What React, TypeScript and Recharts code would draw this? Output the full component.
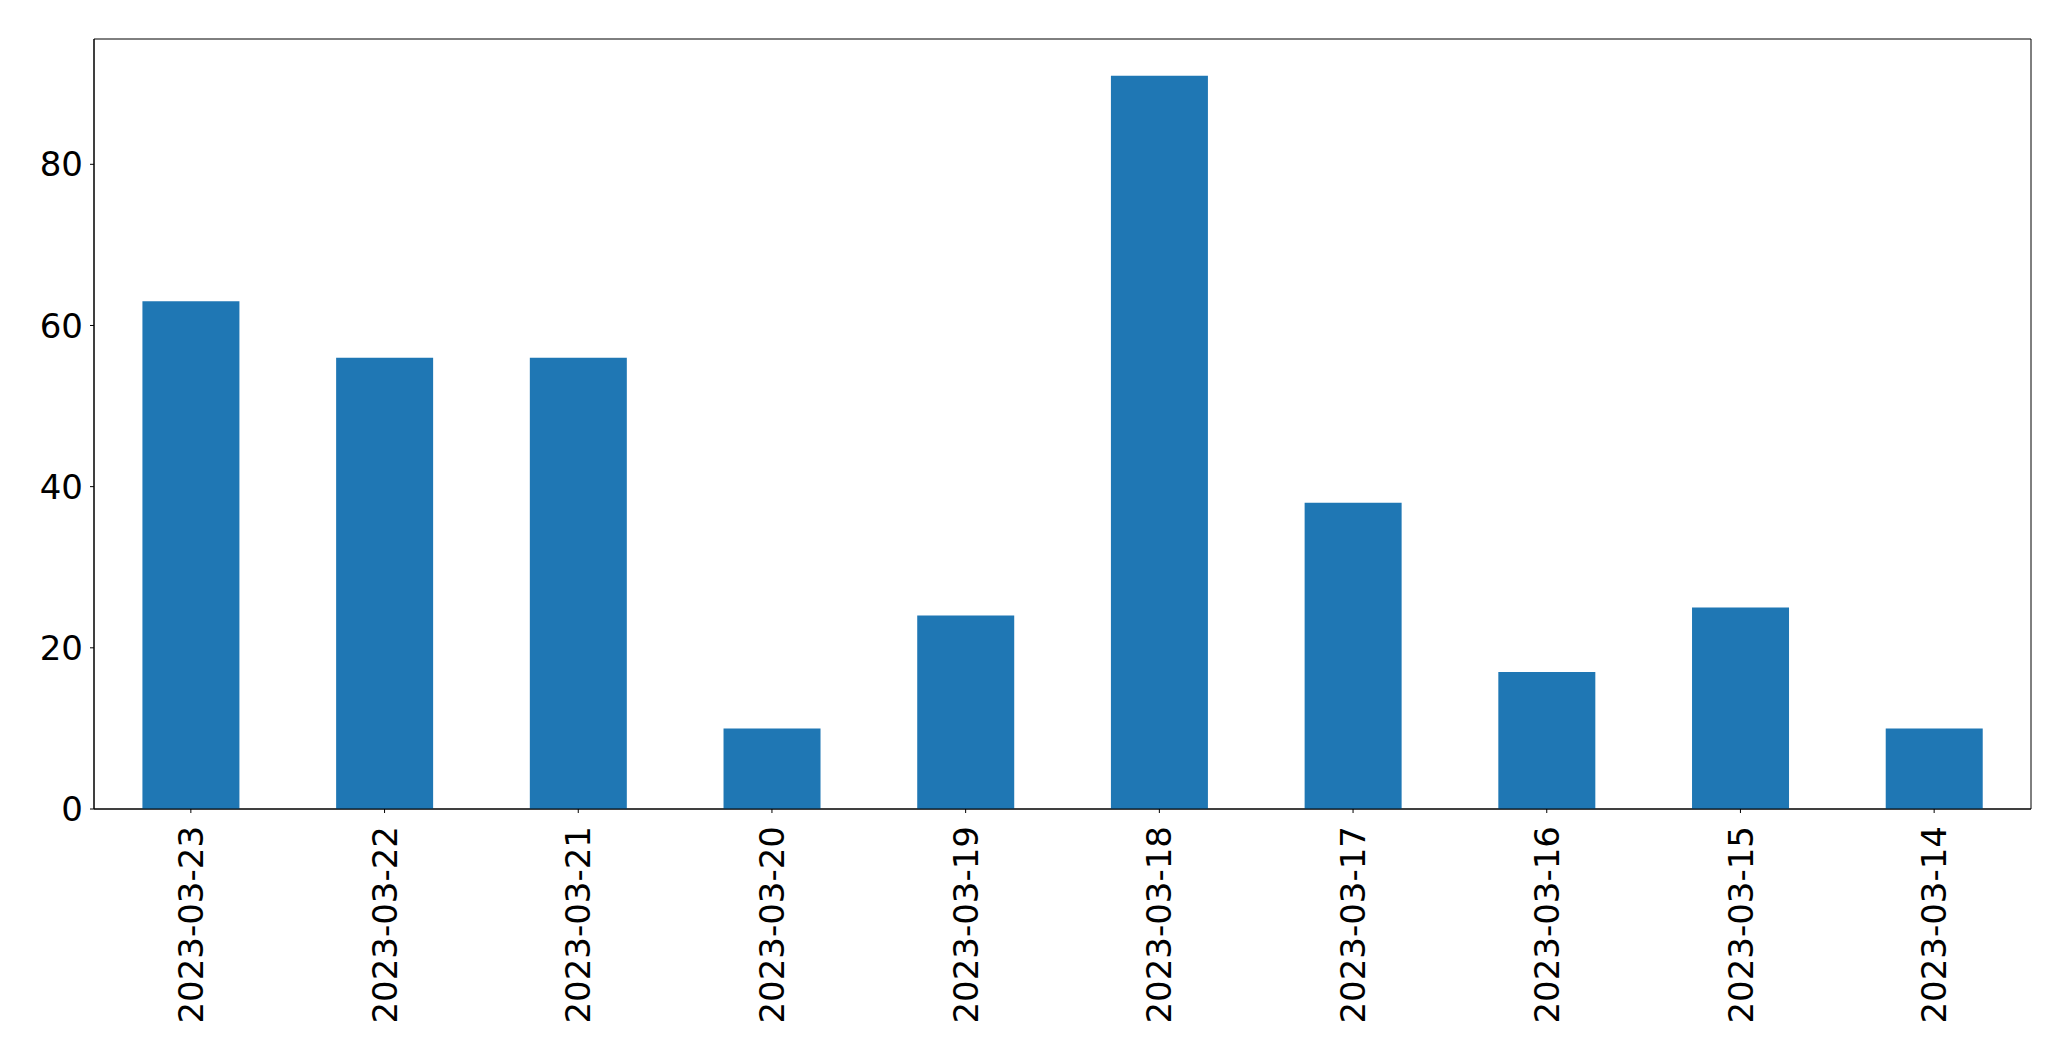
import React from 'react';
import { BarChart, Bar, XAxis, YAxis, ReferenceArea } from 'recharts';

const categories = ['2023-03-23', '2023-03-22', '2023-03-21', '2023-03-20', '2023-03-19', '2023-03-18', '2023-03-17', '2023-03-16', '2023-03-15', '2023-03-14'];
const values = [63, 56, 56, 10, 24, 91, 38, 17, 25, 10];
const yTicks = [0, 20, 40, 60, 80];
const yMax = 95.55;

const data = categories.map((c, i) => ({ date: c, value: values[i] }));

const FONT = 'DejaVu Sans, sans-serif';

const XTick = (props: any) => {
  const { x, y, payload } = props;
  return (
    <text
      x={x}
      y={y}
      transform={`rotate(-90, ${x}, ${y})`}
      textAnchor="end"
      dy="0.355em"
      fontFamily={FONT}
      fontSize={34}
      fill="#000"
    >
      {payload.value}
    </text>
  );
};

export default function App() {
  return (
    <div style={{ position: 'absolute', left: 0, top: 0, width: 2071, height: 1061, background: '#fff' }}>
      <BarChart
        width={2071}
        height={1061}
        data={data}
        margin={{ top: 39, right: 40, bottom: 0, left: 0 }}
        barCategoryGap="25%"
      >
        <XAxis
          xAxisId="main"
          dataKey="date"
          height={252}
          interval={0}
          tickSize={4}
          tickMargin={13}
          tick={<XTick />}
          axisLine={{ stroke: '#000', strokeWidth: 1 }}
          tickLine={{ stroke: '#000', strokeWidth: 1 }}
        />
        <YAxis
          yAxisId="main"
          width={94}
          domain={[0, yMax]}
          ticks={yTicks}
          tickSize={4}
          tickMargin={7}
          tick={{ fontFamily: FONT, fontSize: 34, fill: '#000' }}
          axisLine={{ stroke: '#000', strokeWidth: 1 }}
          tickLine={{ stroke: '#000', strokeWidth: 1 }}
        />
        <Bar xAxisId="main" yAxisId="main" dataKey="value" fill="#1f77b4" isAnimationActive={false} />
        <ReferenceArea
          xAxisId="main"
          yAxisId="main"
          y1={0}
          y2={yMax}
          fill="none"
          fillOpacity={0}
          stroke="#000"
          strokeWidth={1}
          strokeOpacity={1}
          ifOverflow="visible"
        />
      </BarChart>
    </div>
  );
}
